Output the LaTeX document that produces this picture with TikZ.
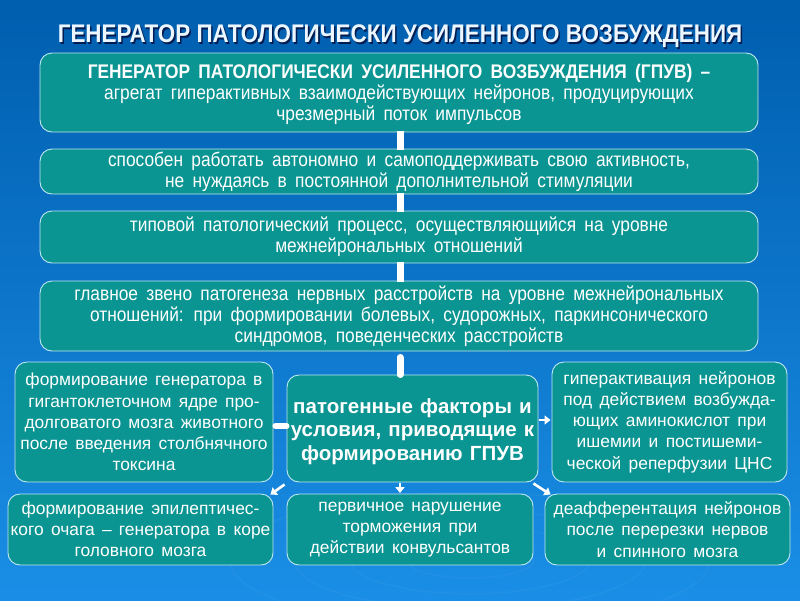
\documentclass[tikz,border=0pt]{standalone}
\usepackage{fontspec}
\setmainfont{Liberation Sans}
\newfontfamily\nar[FakeStretch=0.88]{Liberation Sans}
\usetikzlibrary{arrows.meta,calc}
\definecolor{bgtop}{RGB}{0,94,174}
\definecolor{bgbot}{RGB}{26,142,230}
\definecolor{boxfill}{RGB}{10,148,146}
\definecolor{boxline}{RGB}{190,232,240}
\definecolor{shadowc}{RGB}{0,28,80}
\definecolor{titlec}{RGB}{236,246,255}
\begin{document}
\begin{tikzpicture}[x=1pt,y=-1pt,
  box/.style={draw=boxline, line width=0.9pt, fill=boxfill, rounded corners=12pt,
    text=white, align=center, inner sep=0pt},
  widebox/.style={box, minimum width=718pt, font={\nar\fontsize{19.7}{21}\selectfont\spaceskip=0.42em}},
  lowbox/.style={box, font={\fontsize{17.4}{21.2}\selectfont\spaceskip=0.42em}},
  bar/.style={white, line width=7pt},
  arr/.style={white, line width=2.6pt, -{Triangle[length=6pt,width=9pt]}}]
\shade[top color=bgtop, bottom color=bgbot] (0,0) rectangle (800,600);
\useasboundingbox (0,0) rectangle (800,600);
% faint ripples
\foreach \r in {40,75,110,150}{
  \draw[white, opacity=0.035, line width=1.5pt] (470,560) ellipse ({\r*1.6} and {\r*0.45});
}
% title
\node[text=shadowc, font={\nar\fontsize{25.5}{28}\selectfont\bfseries}] (titleshadow) at (401.5,38) {ГЕНЕРАТОР ПАТОЛОГИЧЕСКИ УСИЛЕННОГО ВОЗБУЖДЕНИЯ};
\node[text=titlec, font={\nar\fontsize{25.5}{28}\selectfont\bfseries}] (title) at (400,36.5) {ГЕНЕРАТОР ПАТОЛОГИЧЕСКИ УСИЛЕННОГО ВОЗБУЖДЕНИЯ};
% main column
\node[widebox, minimum height=79pt] (n1) at (399,92.5) {\rule{0pt}{19pt}\textbf{ГЕНЕРАТОР  ПАТОЛОГИЧЕСКИ  УСИЛЕННОГО  ВОЗБУЖДЕНИЯ  (ГПУВ) –}\\ агрегат гиперактивных  взаимодействующих  нейронов,  продуцирующих\\ чрезмерный  поток импульсов};
\node[widebox, minimum height=45pt] (n2) at (399,171.5) {способен работать автономно и самоподдерживать  свою активность,\\ не нуждаясь в постоянной  дополнительной  стимуляции};
\node[widebox, minimum height=52pt] (n3) at (399,237) {типовой  патологический  процесс,  осуществляющийся  на уровне\\ межнейрональных  отношений};
\node[widebox, minimum height=70pt] (n4) at (399,316) {главное звено патогенеза нервных расстройств на уровне межнейрональных\\ отношений:  при  формировании  болевых,  судорожных,  паркинсонического\\ синдромов,  поведенческих  расстройств};
% center
\node[box, minimum width=251pt, minimum height=107pt, font={\fontsize{20.5}{23.5}\selectfont\bfseries\spaceskip=0.35em}] (n5) at (412.5,428.5) {\rule{0pt}{21pt}патогенные факторы и\\ условия,  приводящие к\\ формированию ГПУВ};
\node[lowbox, minimum width=258pt, minimum height=120pt] (n6) at (144,422) {формирование  генератора в\\ гигантоклеточном  ядре про-\\ долговатого мозга животного\\ после  введения  столбнячного\\ токсина};
\node[lowbox, minimum width=235pt, minimum height=120pt] (n7) at (669.5,422) {гиперактивация  нейронов\\ под  действием  возбужда-\\ ющих  аминокислот  при\\ ишемии  и постишеми-\\ ческой  реперфузии  ЦНС};
\node[lowbox, minimum width=265pt, minimum height=71pt] (n8) at (140.5,529.5) {формирование  эпилептичес-\\ кого очага – генератора в коре\\ головного мозга};
\node[lowbox, minimum width=246pt, minimum height=71pt] (n9) at (410,529.5) {первичное  нарушение\\ торможения  при\\ действии  конвульсантов};
\node[lowbox, minimum width=245pt, minimum height=71pt] (n10) at (667.5,529.5) {деафферентация  нейронов\\ после  перерезки  нервов\\ и спинного  мозга};
% vertical bars
\draw[bar] ($(n1.south)+(1,-1)$) -- ($(n2.north)+(1,1)$);
\draw[bar] ($(n2.south)+(1,-1)$) -- ($(n3.north)+(1,1)$);
\draw[bar] ($(n3.south)+(1,-1)$) -- ($(n4.north)+(1,1)$);
\draw[bar, line cap=round] ($(n4.south)+(1,6)$) -- ($(n5.north)+(-12.5,0)$);
\draw[white, line width=6pt, line cap=round] ($(n6.east)+(2,4)$) -- ($(n5.west)+(0,-2.5)$);
% arrows
\draw[arr] ($(n5.east)+(1,-8.5)$) -- ($(n7.west)+(-1,-2)$);
\draw[arr] ($(n5.south west)+(-2,2)$) -- ($(n8.north east)+(-3,1)$);
\draw[arr] ($(n5.south)+(-12.5,1)$) -- ($(n9.north)+(-10,-0.5)$);
\draw[arr] ($(n5.south east)+(-5,1)$) -- ($(n10.north west)+(6,1)$);
\end{tikzpicture}
\end{document}
